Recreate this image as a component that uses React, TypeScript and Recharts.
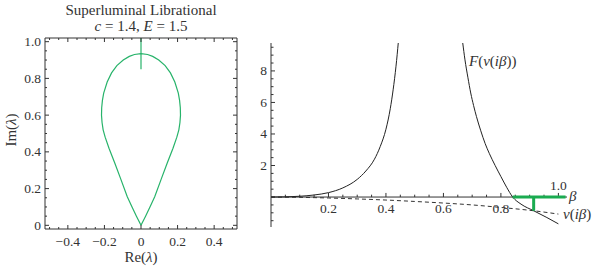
import { LineChart, Line, XAxis, YAxis, ReferenceLine, ReferenceDot } from "recharts";

const FONT = "'Liberation Serif', 'DejaVu Serif', serif";
const INK = "#333";
const GREEN = "#27b36a";
const GREEN_BOLD = "#1aab50";

// left panel: right half of the lambda loop, bottom tip -> top
const loopIm = [0, 0.05, 0.1, 0.156, 0.25, 0.338, 0.42, 0.48, 0.52, 0.56, 0.6, 0.64, 0.68, 0.72, 0.78, 0.83, 0.87, 0.9, 0.92, 0.93, 0.935];
const loopRe = [0, 0.025, 0.049, 0.075, 0.11, 0.143, 0.175, 0.196, 0.207, 0.213, 0.216, 0.215, 0.211, 0.204, 0.185, 0.161, 0.132, 0.097, 0.064, 0.036, 0];
const spikeIm = [0.85, 1.02];

const reMajor = [-0.4, -0.2, 0, 0.2, 0.4];
const reMinor = [-0.5, -0.45, -0.35, -0.3, -0.25, -0.15, -0.1, -0.05, 0.05, 0.1, 0.15, 0.25, 0.3, 0.35, 0.45, 0.5];
const imMajor = [0, 0.2, 0.4, 0.6, 0.8, 1.0];
const imMinor = [0.05, 0.1, 0.15, 0.25, 0.3, 0.35, 0.45, 0.5, 0.55, 0.65, 0.7, 0.75, 0.85, 0.9, 0.95];

// right panel: F(nu(i beta)) two branches, nu(i beta) dashed
const fLeftBeta = [0, 0.05, 0.1, 0.15, 0.2, 0.25, 0.3, 0.33, 0.36, 0.38, 0.4, 0.415, 0.425, 0.435, 0.443];
const fLeftVal = [0, 0.01, 0.05, 0.13, 0.28, 0.58, 1.12, 1.65, 2.4, 3.2, 4.3, 5.6, 6.8, 8.3, 9.8];
const fRightBeta = [0.667, 0.675, 0.685, 0.695, 0.705, 0.715, 0.73, 0.745, 0.76, 0.78, 0.8, 0.82, 0.841, 0.87, 0.914, 0.96, 1.0];
const fRightVal = [9.8, 8.7, 7.6, 6.6, 5.8, 5.1, 4.2, 3.4, 2.75, 2.0, 1.3, 0.62, 0, -0.45, -0.87, -1.3, -1.7];
const nuBeta = [0, 0.1, 0.2, 0.3, 0.4, 0.5, 0.6, 0.7, 0.8, 0.914, 1.0];
const nuVal = [0, -0.02, -0.06, -0.12, -0.19, -0.28, -0.38, -0.5, -0.66, -0.87, -1.08];
const rootBeta = [0.841, 1.025];
const crossBeta = 0.914;
const crossVal = -0.87;

const betaMajor = [0.2, 0.4, 0.6, 0.8, 1.0];
const betaMinor = [0.05, 0.1, 0.15, 0.25, 0.3, 0.35, 0.45, 0.5, 0.55, 0.65, 0.7, 0.75, 0.85, 0.9, 0.95];
const fMajor = [2, 4, 6, 8];
const fMinor = [-1.5, -1, -0.5, 0, 0.5, 1, 1.5, 2.5, 3, 3.5, 4.5, 5, 5.5, 6.5, 7, 7.5, 8.5, 9, 9.5];

const pairs = (xs: number[], ys: number[]) => xs.map((x, i) => ({ x, y: ys[i] }));

const loopData = [
  ...pairs(loopRe, loopIm),
  ...pairs(loopRe.map((r) => -r), loopIm).reverse(),
];
const spikeData = pairs([0, 0], spikeIm);

const fmt = (v: number) => (v === 0 ? "0" : (v < 0 ? "\u2212" : "") + Math.abs(v).toFixed(1));
const textStyle = { fontFamily: FONT, fontSize: 13.5, fill: INK };

function FrameTick(props: any) {
  const { x, y, payload, side, majors } = props;
  const major = majors.includes(payload.value);
  const len = major ? 4 : 2;
  let line;
  if (side === "bottom") line = <line x1={x} x2={x} y1={y} y2={y - len} stroke={INK} />;
  else if (side === "top") line = <line x1={x} x2={x} y1={y} y2={y + len} stroke={INK} />;
  else if (side === "left") line = <line x1={x} x2={x + len} y1={y} y2={y} stroke={INK} />;
  else line = <line x1={x} x2={x - len} y1={y} y2={y} stroke={INK} />;
  return (
    <g>
      {line}
      {major && side === "bottom" && (
        <text x={x} y={y + 12} textAnchor="middle" dominantBaseline="central" {...textStyle}>
          {fmt(payload.value)}
        </text>
      )}
      {major && side === "left" && (
        <text x={x - 4} y={y} textAnchor="end" dominantBaseline="central" {...textStyle}>
          {fmt(payload.value)}
        </text>
      )}
    </g>
  );
}

function LoopChart() {
  const reTicks = [...reMajor, ...reMinor];
  const imTicks = [...imMajor, ...imMinor];
  return (
    <LineChart width={260} height={275} margin={{ top: 37, right: 22, bottom: 45, left: 44 }}>
      <XAxis xAxisId="b" dataKey="x" type="number" domain={[-0.525, 0.525]} allowDataOverflow ticks={reTicks} interval={0}
        height={1} tickSize={0} tickMargin={0} tickLine={false} stroke={INK}
        tick={<FrameTick side="bottom" majors={reMajor} />} />
      <XAxis xAxisId="t" orientation="top" dataKey="x" type="number" domain={[-0.525, 0.525]} allowDataOverflow ticks={reTicks} interval={0}
        height={1} tickSize={0} tickMargin={0} tickLine={false} stroke={INK}
        tick={<FrameTick side="top" majors={reMajor} />} />
      <YAxis yAxisId="l" type="number" domain={[-0.02, 1.02]} allowDataOverflow ticks={imTicks} interval={0}
        width={1} tickSize={0} tickMargin={0} tickLine={false} stroke={INK}
        tick={<FrameTick side="left" majors={imMajor} />} />
      <YAxis yAxisId="r" orientation="right" type="number" domain={[-0.02, 1.02]} allowDataOverflow ticks={imTicks} interval={0}
        width={1} tickSize={0} tickMargin={0} tickLine={false} stroke={INK}
        tick={<FrameTick side="right" majors={imMajor} />} />
      <Line xAxisId="b" yAxisId="l" data={loopData} dataKey="y" type="linear" stroke={GREEN} strokeWidth={1.2} dot={false} isAnimationActive={false} />
      <Line xAxisId="b" yAxisId="l" data={spikeData} dataKey="y" type="linear" stroke={GREEN} strokeWidth={1.2} dot={false} isAnimationActive={false} />
    </LineChart>
  );
}

function FTick(props: any) {
  const { x, y, payload } = props;
  const major = fMajor.includes(payload.value) || payload.value === 0;
  return (
    <g>
      <line x1={x} x2={x + (major ? 4 : 2.5)} y1={y} y2={y} stroke={INK} />
      {fMajor.includes(payload.value) && (
        <text x={x - 4} y={y} textAnchor="end" dominantBaseline="central" {...textStyle}>
          {payload.value}
        </text>
      )}
    </g>
  );
}

function BetaChart() {
  return (
    <LineChart width={370} height={275} margin={{ top: 43, right: 33, bottom: 48, left: 40 }}>
      <XAxis dataKey="x" type="number" domain={[0, 1.03]} allowDataOverflow hide />
      <YAxis type="number" domain={[-1.9, 9.77]} allowDataOverflow ticks={[...fMinor, ...fMajor]} interval={0}
        width={1} tickSize={0} tickMargin={0} tickLine={false} stroke={INK} tick={<FTick />} />
      <ReferenceLine y={0} stroke={INK} ifOverflow="visible" />
      {betaMinor.map((t) => (
        <ReferenceLine key={"m" + t} segment={[{ x: t, y: 0 }, { x: t, y: 0.15 }]} stroke={INK} ifOverflow="visible" />
      ))}
      {betaMajor.map((t) => (
        <ReferenceLine key={"M" + t} segment={[{ x: t, y: 0 }, { x: t, y: 0.26 }]} stroke={INK} ifOverflow="visible" />
      ))}
      {betaMajor.map((t) => (
        <ReferenceDot key={"l" + t} x={t} y={0} r={0} stroke="none" fill="none" ifOverflow="visible"
          label={{ value: t.toFixed(1), position: t === 1 ? "top" : "bottom", offset: t === 1 ? 7 : 6, ...textStyle }} />
      ))}
      <Line data={pairs(nuBeta, nuVal)} dataKey="y" type="monotone" stroke={INK} strokeWidth={1} strokeDasharray="4 3" dot={false} isAnimationActive={false} />
      <Line data={pairs(fLeftBeta, fLeftVal)} dataKey="y" type="monotone" stroke="#222" strokeWidth={1} dot={false} isAnimationActive={false} />
      <Line data={pairs(fRightBeta, fRightVal)} dataKey="y" type="monotone" stroke="#222" strokeWidth={1} dot={false} isAnimationActive={false} />
      <Line data={pairs(rootBeta, [0, 0])} dataKey="y" type="linear" stroke={GREEN_BOLD} strokeWidth={3} dot={false} isAnimationActive={false} />
      <Line data={pairs([crossBeta, crossBeta], [0, crossVal])} dataKey="y" type="linear" stroke={GREEN_BOLD} strokeWidth={3} dot={false} isAnimationActive={false} />
    </LineChart>
  );
}

const abs = (left: number, top: number, extra: object = {}) => ({
  position: "absolute" as const, left, top, whiteSpace: "nowrap" as const, ...extra,
});

export default function App() {
  return (
    <div style={{ position: "absolute", left: 0, top: 0, width: 600, height: 275, background: "#fff", fontFamily: FONT, color: INK, fontSize: 15 }}>
      <div style={{ position: "absolute", left: 0, top: 0 }}>
        <LoopChart />
      </div>
      <div style={{ position: "absolute", left: 230, top: 0 }}>
        <BetaChart />
      </div>
      <div style={abs(41, 2, { width: 200, textAlign: "center", lineHeight: "16px" })}>
        Superluminal Librational
        <br />
        <i>c</i> = 1.4, <i>E</i> = 1.5
      </div>
      <div style={abs(11, 130, { transform: "translate(-50%, -50%) rotate(-90deg)" })}>Im(<i>λ</i>)</div>
      <div style={abs(141, 257, { transform: "translate(-50%, -50%)" })}>Re(<i>λ</i>)</div>
      <div style={abs(469, 61, { transform: "translateY(-50%)" })}>
        <i>F</i>(<i>ν</i>(<i>iβ</i>))
      </div>
      <div style={abs(569, 196, { transform: "translateY(-50%)" })}>
        <i>β</i>
      </div>
      <div style={abs(563, 214, { transform: "translateY(-50%)" })}>
        <i>ν</i>(<i>iβ</i>)
      </div>
    </div>
  );
}
